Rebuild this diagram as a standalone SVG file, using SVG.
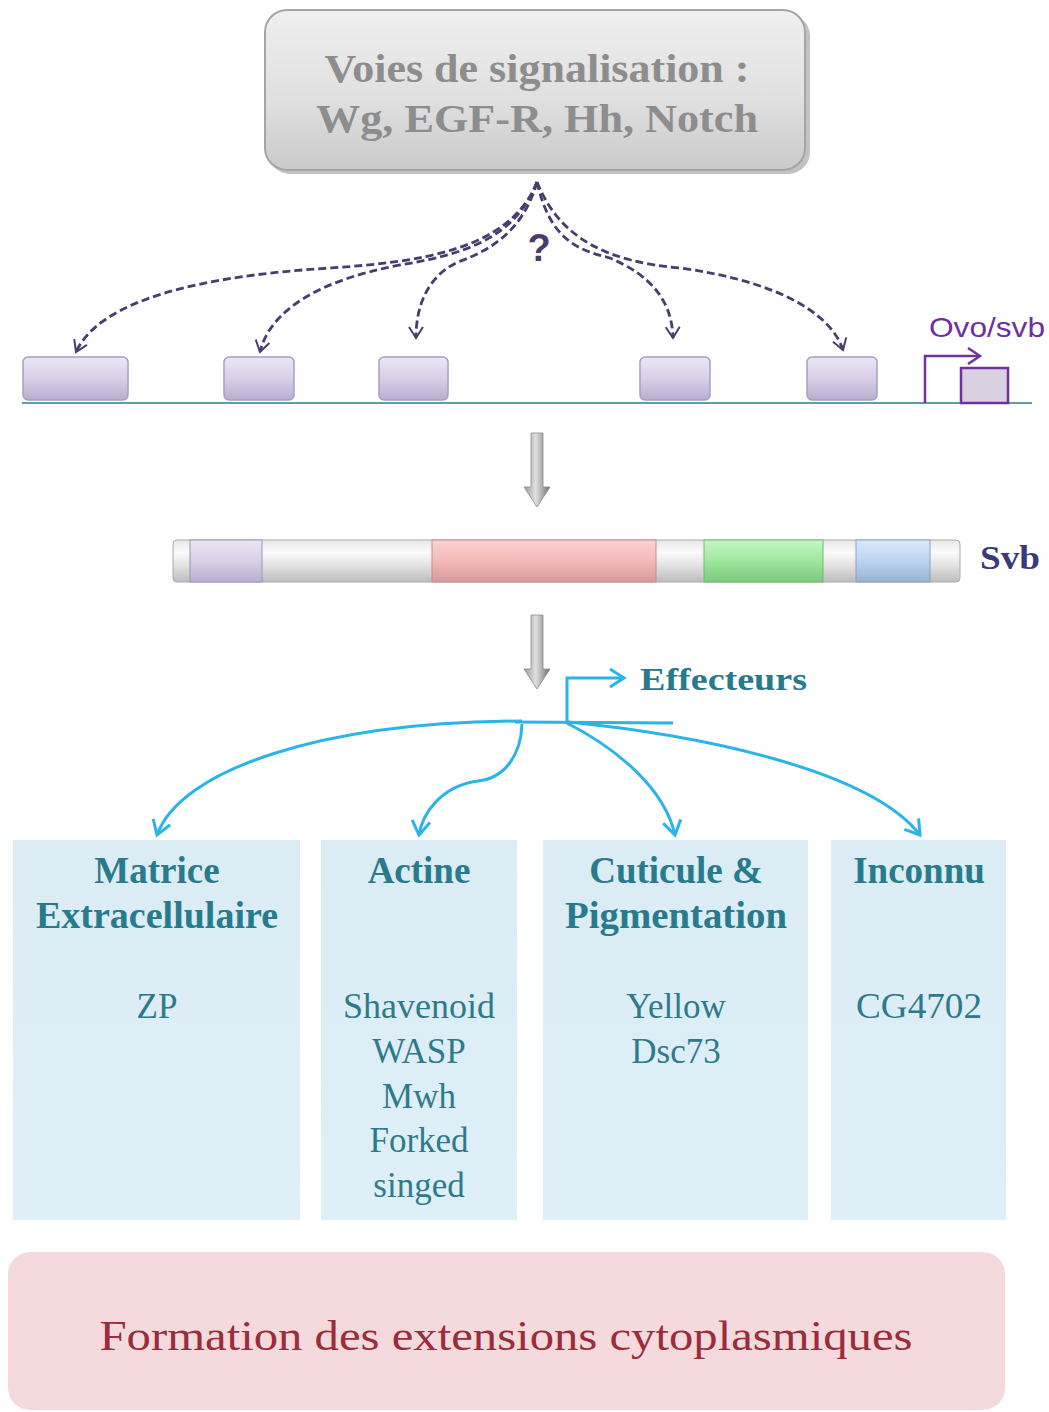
<svg xmlns="http://www.w3.org/2000/svg" width="1049" height="1412" viewBox="0 0 1049 1412">
<defs>
<linearGradient id="gTop" x1="0" y1="0" x2="0" y2="1"><stop offset="0" stop-color="#f0f0f0"/><stop offset="0.6" stop-color="#dedede"/><stop offset="1" stop-color="#c9c9c9"/></linearGradient>
<linearGradient id="gLav" x1="0" y1="0" x2="0" y2="1"><stop offset="0" stop-color="#ece6f5"/><stop offset="0.5" stop-color="#d9cfe8"/><stop offset="1" stop-color="#b9aed0"/></linearGradient>
<linearGradient id="gBar" x1="0" y1="0" x2="0" y2="1"><stop offset="0" stop-color="#e8e8e8"/><stop offset="0.3" stop-color="#fbfbfb"/><stop offset="0.6" stop-color="#e2e2e2"/><stop offset="1" stop-color="#bdbdbd"/></linearGradient>
<linearGradient id="gPink" x1="0" y1="0" x2="0" y2="1"><stop offset="0" stop-color="#fbd3d3"/><stop offset="0.5" stop-color="#f5b8b8"/><stop offset="1" stop-color="#d79a9a"/></linearGradient>
<linearGradient id="gGreen" x1="0" y1="0" x2="0" y2="1"><stop offset="0" stop-color="#c6f6c6"/><stop offset="0.5" stop-color="#9ee89e"/><stop offset="1" stop-color="#7cc87c"/></linearGradient>
<linearGradient id="gBlue" x1="0" y1="0" x2="0" y2="1"><stop offset="0" stop-color="#dceafb"/><stop offset="0.5" stop-color="#bcd3f0"/><stop offset="1" stop-color="#9ab2d2"/></linearGradient>
<linearGradient id="gArrow" x1="0" y1="0" x2="1" y2="0"><stop offset="0" stop-color="#9a9a9a"/><stop offset="0.45" stop-color="#e0e0e0"/><stop offset="1" stop-color="#6e6e6e"/></linearGradient>
<linearGradient id="gCol" x1="0" y1="0" x2="0" y2="1"><stop offset="0" stop-color="#dbecf5"/><stop offset="1" stop-color="#deeff8"/></linearGradient>
<marker id="mDash" markerUnits="userSpaceOnUse" markerWidth="24" markerHeight="24" viewBox="-12 -12 24 24" refX="0" refY="0" orient="auto">
<path d="M -11 -7 L 0 0 L -11 7" fill="none" stroke="#4a3d6e" stroke-width="2"/>
</marker>
<marker id="mBlue" markerUnits="userSpaceOnUse" markerWidth="30" markerHeight="30" viewBox="-15 -15 30 30" refX="0" refY="0" orient="auto">
<path d="M -14 -9 L 0 0 L -14 9" fill="none" stroke="#2ab4e8" stroke-width="3"/>
</marker>
<marker id="mPurp" markerUnits="userSpaceOnUse" markerWidth="30" markerHeight="30" viewBox="-15 -15 30 30" refX="0" refY="0" orient="auto">
<path d="M -12 -8 L 0 0 L -12 8" fill="none" stroke="#7030a0" stroke-width="2.5"/>
</marker>
</defs>
<style>
.title{font-family:"Liberation Serif",serif;font-weight:bold;fill:#8d8d8d;font-size:39px;text-anchor:middle}
.hdr{font-family:"Liberation Serif",serif;font-weight:bold;fill:#277b8c;font-size:37px;text-anchor:middle}
.item{font-family:"Liberation Serif",serif;fill:#2d7b8a;font-size:35px;text-anchor:middle}
.lav{fill:url(#gLav);stroke:#a99ec2;stroke-width:1.5}
.dash{fill:none;stroke:#4a3d6e;stroke-width:2.8;stroke-dasharray:8 4;marker-end:url(#mDash)}
.blue{fill:none;stroke:#2ab4e8;stroke-width:3;marker-end:url(#mBlue)}
.col{fill:url(#gCol)}
.garrow{fill:url(#gArrow);stroke:#8a8a8a;stroke-width:0.8}
</style>
<rect width="1049" height="1412" fill="#ffffff"/>

<g id="signalisation">
<rect x="268" y="14" width="542" height="160" rx="22" fill="#9a9a9a" opacity="0.6"/>
<rect x="265" y="10" width="540" height="160" rx="22" fill="url(#gTop)" stroke="#a5a5a5" stroke-width="2"/>
<text class="title" x="537" y="82" textLength="425" lengthAdjust="spacingAndGlyphs">Voies de signalisation :</text>
<text class="title" x="537" y="132" textLength="442" lengthAdjust="spacingAndGlyphs">Wg, EGF-R, Hh, Notch</text>
</g>

<g id="gene">
<line x1="22" y1="403" x2="1032" y2="403" stroke="#5e9ea4" stroke-width="2"/>
<rect class="lav" x="23" y="357" width="105" height="43" rx="5"/>
<rect class="lav" x="224" y="357" width="70" height="43" rx="5"/>
<rect class="lav" x="379" y="357" width="69" height="43" rx="5"/>
<rect class="lav" x="640" y="357" width="70" height="43" rx="5"/>
<rect class="lav" x="807" y="357" width="70" height="43" rx="5"/>
<rect x="961" y="368" width="47" height="35" fill="#d9d0e2" stroke="#7030a0" stroke-width="2.5"/>
<path d="M 925 403 L 925 356 L 980 356" fill="none" stroke="#7030a0" stroke-width="2.5" marker-end="url(#mPurp)"/>
<text x="929" y="337" font-family="Liberation Sans, sans-serif" font-size="28" fill="#7030a0" textLength="116" lengthAdjust="spacingAndGlyphs">Ovo/svb</text>
</g>

<g id="question">
<text x="539" y="261" font-family="Liberation Sans, sans-serif" font-weight="bold" font-size="38" fill="#4a3d6e" text-anchor="middle">?</text>
</g>

<g id="arrow1">
<path class="garrow" d="M 531 433 L 543 433 L 543 487 L 550 487 L 537 507 L 524 487 L 531 487 Z"/>
</g>

<g id="svb">
<rect x="173" y="540" width="787" height="42" rx="4" fill="url(#gBar)" stroke="#aaaaaa" stroke-width="1"/>
<rect x="190" y="540" width="72" height="42" fill="url(#gLav)" stroke="#9e94b4" stroke-width="1"/>
<rect x="432" y="540" width="224" height="42" fill="url(#gPink)" stroke="#c48c8c" stroke-width="1"/>
<rect x="704" y="540" width="119" height="42" fill="url(#gGreen)" stroke="#74b874" stroke-width="1"/>
<rect x="856" y="540" width="74" height="42" fill="url(#gBlue)" stroke="#8aa2c0" stroke-width="1"/>
<text x="980" y="569" font-family="Liberation Serif, serif" font-weight="bold" font-size="34" fill="#3b3a78" textLength="60" lengthAdjust="spacingAndGlyphs">Svb</text>
</g>

<g id="arrow2">
<path class="garrow" d="M 531 615 L 543 615 L 543 669 L 550 669 L 537 689 L 524 669 L 531 669 Z"/>
</g>

<g id="effecteurs">
<path d="M 567 722 L 567 678 L 624 678" fill="none" stroke="#2ab4e8" stroke-width="3" marker-end="url(#mBlue)"/>
<text x="640" y="690" font-family="Liberation Serif, serif" font-weight="bold" font-size="31" fill="#277b8c" textLength="167" lengthAdjust="spacingAndGlyphs">Effecteurs</text>
</g>

<g id="connectors">
<path class="dash" d="M 537 182 C 510 250 420 262 330 268 C 200 276 100 300 76 352"/>
<path class="dash" d="M 537 182 C 515 240 460 255 400 265 C 320 280 270 310 260 352"/>
<path class="dash" d="M 537 182 C 522 235 485 252 458 262 C 428 276 416 305 416 338"/>
<path class="dash" d="M 537 182 C 550 240 578 250 610 258 C 650 275 672 300 673 338"/>
<path class="dash" d="M 537 182 C 560 240 610 262 680 268 C 770 280 830 310 843 350"/>
<line x1="515" y1="722" x2="673" y2="723" stroke="#2ab4e8" stroke-width="3"/>
<path class="blue" d="M 522 721 C 320 722 180 770 157 835"/>
<path class="blue" d="M 522 724 C 521 755 505 778 478 781 C 440 786 422 815 419 835"/>
<path class="blue" d="M 565 722 C 620 750 665 790 675 835"/>
<path class="blue" d="M 568 722 C 700 735 870 770 920 835"/>
</g>

<g id="matrice">
<rect class="col" x="13" y="840" width="287" height="380"/>
<text class="hdr" x="157" y="883">Matrice</text>
<text class="hdr" x="157" y="928" textLength="242" lengthAdjust="spacingAndGlyphs">Extracellulaire</text>
<text class="item" x="157" y="1018">ZP</text>
</g>

<g id="actine">
<rect class="col" x="321" y="840" width="196" height="380"/>
<text class="hdr" x="419" y="883">Actine</text>
<text class="item" x="419" y="1018" textLength="152" lengthAdjust="spacingAndGlyphs">Shavenoid</text>
<text class="item" x="419" y="1063">WASP</text>
<text class="item" x="419" y="1108">Mwh</text>
<text class="item" x="419" y="1152">Forked</text>
<text class="item" x="419" y="1197">singed</text>
</g>

<g id="cuticule">
<rect class="col" x="543" y="840" width="265" height="380"/>
<text class="hdr" x="676" y="883">Cuticule &amp;</text>
<text class="hdr" x="676" y="928" textLength="222" lengthAdjust="spacingAndGlyphs">Pigmentation</text>
<text class="item" x="676" y="1018">Yellow</text>
<text class="item" x="676" y="1063">Dsc73</text>
</g>

<g id="inconnu">
<rect class="col" x="831" y="840" width="175" height="380"/>
<text class="hdr" x="919" y="883">Inconnu</text>
<text class="item" x="919" y="1018" textLength="126" lengthAdjust="spacingAndGlyphs">CG4702</text>
</g>

<g id="formation">
<rect x="8" y="1252" width="997" height="158" rx="22" fill="#f4dadd"/>
<text x="506" y="1350" font-family="Liberation Serif, serif" font-size="42" fill="#9b2c3a" text-anchor="middle" textLength="813" lengthAdjust="spacingAndGlyphs">Formation des extensions cytoplasmiques</text>
</g>
</svg>
